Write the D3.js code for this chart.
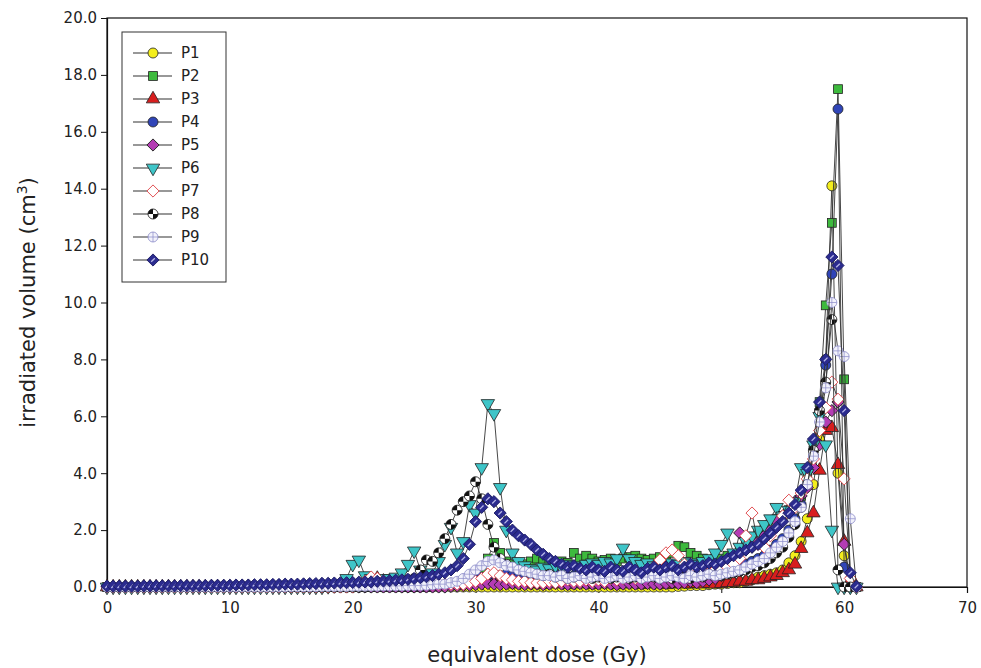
<!DOCTYPE html>
<html>
<head>
<meta charset="utf-8">
<script src="https://cdn.jsdelivr.net/npm/d3@7/dist/d3.min.js"></script>
<style>
  html, body { margin: 0; padding: 0; background: #fff; }
  svg { display: block; font-family: 'DejaVu Sans', Verdana, sans-serif; }
</style>
</head>
<body>
<div id="chart"></div>
<script>
// dose bins (Gy)
const doses = [
  0, 0.5, 1, 1.5, 2, 2.5, 3, 3.5, 4, 4.5,
  5, 5.5, 6, 6.5, 7, 7.5, 8, 8.5, 9, 9.5,
  10, 10.5, 11, 11.5, 12, 12.5, 13, 13.5, 14, 14.5,
  15, 15.5, 16, 16.5, 17, 17.5, 18, 18.5, 19, 19.5,
  20, 20.5, 21, 21.5, 22, 22.5, 23, 23.5, 24, 24.5,
  25, 25.5, 26, 26.5, 27, 27.5, 28, 28.5, 29, 29.5,
  30, 30.5, 31, 31.5, 32, 32.5, 33, 33.5, 34, 34.5,
  35, 35.5, 36, 36.5, 37, 37.5, 38, 38.5, 39, 39.5,
  40, 40.5, 41, 41.5, 42, 42.5, 43, 43.5, 44, 44.5,
  45, 45.5, 46, 46.5, 47, 47.5, 48, 48.5, 49, 49.5,
  50, 50.5, 51, 51.5, 52, 52.5, 53, 53.5, 54, 54.5,
  55, 55.5, 56, 56.5, 57, 57.5, 58, 58.5, 59, 59.5,
  60, 60.5, 61
]

// irradiated volume (cm3) per patient
const p1 = [
  0, 0, 0, 0, 0, 0, 0, 0, 0, 0,
  0, 0, 0, 0, 0, 0, 0, 0, 0, 0,
  0, 0, 0, 0, 0, 0, 0, 0, 0, 0,
  0, 0, 0, 0, 0, 0, 0, 0, 0, 0,
  0, 0, 0, 0, 0, 0, 0, 0, 0, 0,
  0, 0, 0, 0, 0, 0, 0, 0, 0, 0,
  0, 0, 0, 0, 0, 0, 0, 0, 0, 0,
  0, 0, 0, 0, 0, 0, 0, 0, 0, 0,
  0, 0, 0, 0, 0, 0, 0, 0, 0, 0,
  0, 0, 0, 0.02, 0.03, 0.05, 0.05, 0.05, 0.08, 0.1,
  0.1, 0.12, 0.15, 0.15, 0.2, 0.25, 0.35, 0.4, 0.45, 0.5,
  0.6, 0.85, 1.1, 1.6, 2.4, 3.6, 5.2, 8.0, 14.1, 4.0,
  1.1, 0, 0
]
const p2 = [
  0, 0, 0, 0, 0, 0, 0, 0, 0, 0,
  0, 0, 0, 0, 0, 0, 0, 0, 0, 0,
  0, 0, 0, 0, 0, 0, 0, 0, 0, 0,
  0, 0, 0, 0, 0, 0, 0, 0, 0, 0,
  0, 0, 0, 0, 0, 0, 0, 0, 0, 0,
  0, 0, 0, 0.02, 0.05, 0.08, 0.1, 0.15, 0.2, 0.3,
  0.45, 0.6, 1.0, 1.55, 1.2, 0.9, 0.8, 0.75, 0.8, 0.9,
  1.0, 0.9, 0.85, 0.8, 0.9, 0.85, 1.2, 1.0, 1.1, 1.0,
  0.9, 0.95, 1.0, 0.9, 1.0, 1.05, 1.1, 1.0, 0.95, 1.0,
  1.05, 1.1, 1.2, 1.45, 1.4, 1.2, 1.1, 1.0, 0.95, 1.0,
  1.0, 1.1, 1.15, 1.3, 1.6, 1.75, 1.9, 2.0, 2.2, 2.4,
  2.5, 2.7, 2.9, 3.2, 3.8, 4.8, 6.5, 9.9, 12.8, 17.5,
  7.3, 0.2, 0
]
const p3 = [
  0, 0, 0, 0, 0, 0, 0, 0, 0, 0,
  0, 0, 0, 0, 0, 0, 0, 0, 0, 0,
  0, 0, 0, 0, 0, 0, 0, 0, 0, 0,
  0, 0, 0, 0, 0, 0, 0, 0, 0, 0,
  0, 0, 0.1, 0.25, 0.3, 0.2, 0.1, 0.05, 0.05, 0.05,
  0.05, 0.05, 0.05, 0.05, 0.05, 0.05, 0.05, 0.05, 0.08, 0.1,
  0.15, 0.2, 0.25, 0.2, 0.15, 0.12, 0.1, 0.12, 0.1, 0.12,
  0.1, 0.08, 0.1, 0.12, 0.1, 0.08, 0.1, 0.12, 0.1, 0.08,
  0.1, 0.12, 0.1, 0.08, 0.1, 0.12, 0.1, 0.08, 0.1, 0.12,
  0.1, 0.08, 0.1, 0.12, 0.1, 0.1, 0.12, 0.1, 0.12, 0.1,
  0.12, 0.15, 0.15, 0.2, 0.2, 0.25, 0.25, 0.3, 0.35, 0.4,
  0.5, 0.6, 0.8, 1.35, 1.9, 2.6, 4.1, 5.5, 5.6, 4.3,
  1.6, 0.2, 0
]
const p4 = [
  0, 0, 0, 0, 0, 0, 0, 0, 0, 0,
  0, 0, 0, 0, 0, 0, 0, 0, 0, 0,
  0, 0, 0, 0, 0, 0, 0, 0, 0, 0,
  0, 0, 0, 0, 0, 0, 0, 0, 0, 0,
  0, 0, 0, 0, 0, 0, 0, 0, 0, 0,
  0, 0, 0.02, 0.03, 0.05, 0.08, 0.1, 0.15, 0.2, 0.25,
  0.3, 0.35, 0.4, 0.45, 0.4, 0.45, 0.4, 0.35, 0.4, 0.45,
  0.4, 0.35, 0.4, 0.45, 0.4, 0.35, 0.4, 0.45, 0.4, 0.35,
  0.4, 0.45, 0.4, 0.35, 0.4, 0.45, 0.4, 0.45, 0.4, 0.45,
  0.45, 0.4, 0.45, 0.5, 0.45, 0.5, 0.45, 0.5, 0.55, 0.5,
  0.55, 0.6, 0.65, 0.7, 0.8, 0.9, 1.0, 1.1, 1.3, 1.5,
  1.7, 2.0, 2.4, 2.9, 3.6, 4.6, 6.2, 7.8, 11.0, 16.8,
  0.7, 0.05, 0
]
const p5 = [
  0, 0, 0, 0, 0, 0, 0, 0, 0, 0,
  0, 0, 0, 0, 0, 0, 0, 0, 0, 0,
  0, 0, 0, 0, 0, 0, 0, 0, 0, 0,
  0, 0, 0, 0, 0, 0, 0, 0, 0, 0,
  0, 0, 0, 0, 0, 0, 0, 0, 0, 0,
  0, 0, 0, 0, 0, 0, 0.02, 0.03, 0.05, 0.06,
  0.08, 0.1, 0.12, 0.1, 0.08, 0.1, 0.12, 0.1, 0.08, 0.1,
  0.1, 0.08, 0.1, 0.12, 0.1, 0.08, 0.1, 0.12, 0.1, 0.1,
  0.1, 0.12, 0.1, 0.08, 0.1, 0.12, 0.1, 0.1, 0.12, 0.1,
  0.1, 0.12, 0.15, 0.12, 0.15, 0.2, 0.15, 0.2, 0.25, 0.3,
  0.4, 0.6, 1.0, 1.9, 1.3, 1.4, 1.6, 1.8, 2.0, 2.3,
  2.5, 2.7, 3.0, 3.2, 3.5, 4.2, 5.0, 5.8, 6.2, 6.5,
  1.5, 0, 0
]
const p6 = [
  0, 0, 0, 0, 0, 0, 0, 0, 0, 0,
  0, 0, 0, 0, 0, 0, 0, 0, 0, 0,
  0, 0, 0, 0, 0, 0, 0, 0, 0, 0,
  0, 0, 0, 0, 0, 0, 0.02, 0.05, 0.1, 0.3,
  0.8, 0.95, 0.4, 0.3, 0.25, 0.3, 0.3, 0.35, 0.5, 0.8,
  1.27, 0.6, 0.45, 0.5, 0.9, 1.5, 2.1, 1.2, 1.6, 2.9,
  2.6, 4.2, 6.45, 6.1, 3.5, 2.0, 1.2, 0.9, 0.75, 0.65,
  0.6, 0.7, 0.65, 0.75, 0.7, 0.8, 0.75, 0.7, 0.8, 0.85,
  0.8, 0.9, 0.85, 1.0, 1.37, 1.0, 0.9, 0.8, 0.85, 0.75,
  0.8, 0.75, 0.85, 0.8, 0.9, 0.85, 0.8, 0.9, 1.0, 1.2,
  1.5, 1.9, 1.2, 1.4, 1.6, 1.8, 2.0, 2.2, 2.4, 2.8,
  2.5, 2.7, 3.0, 4.2, 4.0, 5.0, 6.0, 5.0, 2.0, 0,
  0, 0, 0
]
const p7 = [
  0, 0, 0, 0, 0, 0, 0, 0, 0, 0,
  0, 0, 0, 0, 0, 0, 0, 0, 0, 0,
  0, 0, 0, 0, 0, 0, 0, 0, 0, 0,
  0, 0, 0, 0, 0, 0, 0, 0, 0, 0,
  0, 0.05, 0.2, 0.35, 0.3, 0.2, 0.1, 0.1, 0.1, 0.1,
  0.1, 0.1, 0.1, 0.1, 0.1, 0.1, 0.1, 0.1, 0.1, 0.15,
  0.2, 0.3, 0.45, 0.5, 0.4, 0.3, 0.25, 0.2, 0.2, 0.15,
  0.15, 0.15, 0.2, 0.15, 0.2, 0.25, 0.2, 0.2, 0.25, 0.2,
  0.25, 0.2, 0.3, 0.25, 0.3, 0.35, 0.3, 0.4, 0.5, 0.7,
  0.95, 1.2, 1.3, 1.1, 0.8, 0.6, 0.5, 0.55, 0.5, 0.6,
  0.6, 0.7, 0.8, 1.0, 1.8, 2.6, 1.5, 1.4, 1.8, 2.1,
  2.5, 3.05, 2.8, 3.3, 3.8, 4.5, 5.5, 6.3, 7.2, 6.6,
  3.8, 0.3, 0
]
const p8 = [
  0, 0, 0, 0, 0, 0, 0, 0, 0, 0,
  0, 0, 0, 0, 0, 0, 0, 0, 0, 0,
  0, 0, 0, 0, 0, 0, 0, 0, 0, 0,
  0, 0, 0, 0, 0, 0, 0, 0, 0, 0,
  0, 0, 0.02, 0.05, 0.08, 0.1, 0.12, 0.15, 0.2, 0.25,
  0.3, 0.6, 0.95, 0.9, 1.2, 1.7, 2.2, 2.7, 3.0, 3.2,
  3.7, 3.1, 2.2, 1.4, 1.0, 0.8, 0.7, 0.6, 0.55, 0.5,
  0.45, 0.4, 0.45, 0.35, 0.4, 0.3, 0.35, 0.4, 0.35, 0.3,
  0.35, 0.4, 0.3, 0.35, 0.4, 0.3, 0.35, 0.3, 0.4, 0.35,
  0.3, 0.35, 0.3, 0.4, 0.35, 0.3, 0.4, 0.35, 0.45, 0.4,
  0.4, 0.45, 0.5, 0.55, 0.6, 0.7, 0.75, 0.85, 1.0, 1.2,
  1.4, 1.75, 2.2, 2.8, 3.6, 4.8, 6.2, 7.2, 9.4, 0.6,
  0, 0, 0
]
const p9 = [
  0, 0, 0, 0, 0, 0, 0, 0, 0, 0,
  0, 0, 0, 0, 0, 0, 0, 0, 0, 0,
  0, 0, 0, 0, 0, 0, 0, 0, 0, 0,
  0.01, 0.01, 0.01, 0.01, 0.01, 0.02, 0.02, 0.02, 0.02, 0.02,
  0.03, 0.03, 0.03, 0.03, 0.03, 0.04, 0.04, 0.04, 0.04, 0.05,
  0.05, 0.05, 0.06, 0.08, 0.1, 0.1, 0.15, 0.2, 0.3, 0.45,
  0.6, 0.75, 0.9, 0.95, 0.85, 0.75, 0.7, 0.6, 0.55, 0.5,
  0.45, 0.4, 0.4, 0.35, 0.4, 0.3, 0.35, 0.4, 0.3, 0.35,
  0.4, 0.3, 0.35, 0.4, 0.3, 0.35, 0.4, 0.3, 0.35, 0.4,
  0.3, 0.35, 0.4, 0.35, 0.3, 0.4, 0.35, 0.4, 0.45, 0.4,
  0.45, 0.5, 0.55, 0.6, 0.7, 0.8, 0.9, 1.0, 1.2, 1.4,
  1.6, 1.9, 2.3, 2.8, 3.6, 4.6, 5.8, 7.0, 10.0, 8.3,
  8.1, 2.4, 0
]
const p10 = [
  0.03, 0.03, 0.03, 0.03, 0.03, 0.03, 0.04, 0.04, 0.04, 0.04,
  0.04, 0.04, 0.05, 0.05, 0.05, 0.05, 0.05, 0.06, 0.06, 0.06,
  0.06, 0.07, 0.07, 0.07, 0.08, 0.08, 0.08, 0.09, 0.09, 0.1,
  0.1, 0.1, 0.11, 0.12, 0.12, 0.13, 0.13, 0.14, 0.15, 0.15,
  0.16, 0.17, 0.18, 0.18, 0.2, 0.21, 0.22, 0.24, 0.25, 0.27,
  0.3, 0.33, 0.36, 0.4, 0.45, 0.5, 0.6, 0.75, 1.0, 1.5,
  2.3, 2.8, 3.1, 3.0, 2.6, 2.3, 2.0, 1.8, 1.65, 1.5,
  1.3, 1.15, 1.0, 0.9, 0.8, 0.7, 0.75, 0.65, 0.6, 0.7,
  0.6, 0.55, 0.7, 0.6, 0.55, 0.7, 0.6, 0.5, 0.65, 0.7,
  0.6, 0.7, 0.75, 0.6, 0.7, 0.8, 0.7, 0.75, 0.85, 0.8,
  0.9, 1.0, 1.1, 1.2, 1.3, 1.4, 1.5, 1.7, 1.9, 2.1,
  2.3, 2.6, 2.9, 3.4, 4.2, 5.2, 6.5, 8.0, 11.6, 11.3,
  6.2, 0.5, 0.02
]

const seriesNames = ['P1', 'P2', 'P3', 'P4', 'P5', 'P6', 'P7', 'P8', 'P9', 'P10']
const seriesValues = [p1, p2, p3, p4, p5, p6, p7, p8, p9, p10]
const xTicks = [0, 10, 20, 30, 40, 50, 60, 70]
const yTicks = [0, 2, 4, 6, 8, 10, 12, 14, 16, 18, 20]

// marker style per patient
const markers = [
  { shape: 'circle', fill: '#f4ee1c' },
  { shape: 'square', fill: '#3dba3d' },
  { shape: 'triangle', fill: '#d81e1e' },
  { shape: 'circle', fill: '#3045b8' },
  { shape: 'diamond', fill: '#b43cb4' },
  { shape: 'triangleDown', fill: '#3ec5c8' },
  { shape: 'diamond', fill: '#ffffff', stroke: '#e0474c' },
  { shape: 'checker', fill: '#ffffff' },
  { shape: 'crossCircle', fill: '#f2f2fb', stroke: '#8a8ac8' },
  { shape: 'navyDiamond', fill: '#2b2b8f', stroke: '#1d1d66' }
]

function drawMarker (g, m) {
  const stroke = m.stroke || '#222'
  const r = 5
  if (m.shape === 'circle') {
    g.append('circle').attr('r', r).attr('fill', m.fill).attr('stroke', stroke).attr('stroke-width', 0.8)
  } else if (m.shape === 'square') {
    g.append('rect').attr('x', -4.4).attr('y', -4.4).attr('width', 8.8).attr('height', 8.8)
      .attr('fill', m.fill).attr('stroke', stroke).attr('stroke-width', 0.8)
  } else if (m.shape === 'triangle' || m.shape === 'triangleDown') {
    g.append('path').attr('d', d3.symbol(d3.symbolTriangle, 78)())
      .attr('transform', m.shape === 'triangleDown' ? 'rotate(180)' : null)
      .attr('fill', m.fill).attr('stroke', stroke).attr('stroke-width', 0.8)
  } else if (m.shape === 'diamond' || m.shape === 'navyDiamond') {
    g.append('rect').attr('x', -4.3).attr('y', -4.3).attr('width', 8.6).attr('height', 8.6)
      .attr('transform', 'rotate(45)')
      .attr('fill', m.fill).attr('stroke', stroke).attr('stroke-width', 0.9)
    if (m.shape === 'navyDiamond') {
      g.append('line').attr('x1', -1.8).attr('y1', 1.8).attr('x2', 1.8).attr('y2', -1.8)
        .attr('stroke', '#b8b8e8').attr('stroke-width', 1.3)
    }
  } else if (m.shape === 'checker') {
    g.append('circle').attr('r', r).attr('fill', '#fff').attr('stroke', '#111').attr('stroke-width', 0.8)
    g.append('path').attr('d', `M0,0L${-r},0A${r},${r} 0 0 1 0,${-r}Z`).attr('fill', '#111')
    g.append('path').attr('d', `M0,0L${r},0A${r},${r} 0 0 1 0,${r}Z`).attr('fill', '#111')
  } else if (m.shape === 'crossCircle') {
    g.append('circle').attr('r', r).attr('fill', m.fill).attr('stroke', stroke).attr('stroke-width', 0.8)
    g.append('path').attr('d', `M${-r},0H${r}M0,${-r}V${r}`).attr('stroke', stroke).attr('stroke-width', 0.7)
  }
}

function doseVolumeChart () {
  const width = 981
  const height = 668
  const svg = d3.select('#chart').append('svg')
    .attr('width', width)
    .attr('height', height)

  const x = d3.scaleLinear().domain([0, 70]).range([107, 967])
  const y = d3.scaleLinear().domain([0, 20]).range([587, 18])

  // frame
  svg.append('rect')
    .attr('x', x(0)).attr('y', y(20))
    .attr('width', x(70) - x(0)).attr('height', y(0) - y(20))
    .attr('fill', 'none').attr('stroke', '#111').attr('stroke-width', 1.2)

  const yAxis = svg.append('g')
    .attr('transform', `translate(${x(0)},0)`)
    .call(d3.axisLeft(y).tickValues(yTicks).tickFormat(d3.format('.1f')).tickSize(6).tickPadding(4))
  const xAxis = svg.append('g')
    .attr('transform', `translate(0,${y(0)})`)
    .call(d3.axisBottom(x).tickValues(xTicks).tickFormat(d3.format('d')).tickSize(6).tickPadding(9))
  for (const a of [xAxis, yAxis]) {
    a.select('.domain').attr('stroke', '#111').attr('stroke-width', 1.2)
    a.selectAll('.tick line').attr('stroke', '#111')
    a.selectAll('.tick text')
      .attr('fill', '#222')
      .style('font-family', "'DejaVu Sans', Verdana, sans-serif")
      .style('font-size', '15px')
  }

  svg.append('text')
    .attr('x', (x(0) + x(70)) / 2)
    .attr('y', 662)
    .attr('text-anchor', 'middle')
    .attr('fill', '#222')
    .style('font-size', '21px')
    .text('equivalent dose (Gy)')

  const yTitle = svg.append('text')
    .attr('transform', `translate(35,${(y(0) + y(20)) / 2}) rotate(-90)`)
    .attr('text-anchor', 'middle')
    .attr('fill', '#222')
    .style('font-size', '21px')
  yTitle.append('tspan').text('irradiated volume (cm')
  yTitle.append('tspan').attr('dy', -8).style('font-size', '14px').text('3')
  yTitle.append('tspan').attr('dy', 8).text(')')

  const line = d3.line()
    .x(d => x(d.dose))
    .y(d => y(d.v))

  seriesNames.forEach((name, si) => {
    const pts = doses.map((dose, i) => ({ dose, v: seriesValues[si][i] }))
    const g = svg.append('g').attr('class', 'series-' + name)
    g.append('path')
      .attr('d', line(pts))
      .attr('fill', 'none')
      .attr('stroke', '#333')
      .attr('stroke-width', 0.9)
    g.selectAll('g.pt')
      .data(pts)
      .enter()
      .append('g')
      .attr('class', 'pt')
      .attr('transform', d => `translate(${x(d.dose)},${y(d.v)})`)
      .each(function () { drawMarker(d3.select(this), markers[si]) })
  })

  // legend
  const legend = svg.append('g')
  legend.append('rect')
    .attr('x', 122).attr('y', 32).attr('width', 104).attr('height', 250)
    .attr('fill', '#fff').attr('stroke', '#333').attr('stroke-width', 1)
  seriesNames.forEach((name, i) => {
    const ly = 53 + i * 23
    legend.append('line')
      .attr('x1', 133).attr('x2', 172).attr('y1', ly).attr('y2', ly)
      .attr('stroke', '#333').attr('stroke-width', 1.2)
    const mg = legend.append('g').attr('transform', `translate(153,${ly})`)
    drawMarker(mg, markers[i])
    legend.append('text')
      .attr('x', 181).attr('y', ly + 5)
      .attr('fill', '#222')
      .style('font-size', '15px')
      .text(name)
  })
}

doseVolumeChart()
</script>
</body>
</html>
